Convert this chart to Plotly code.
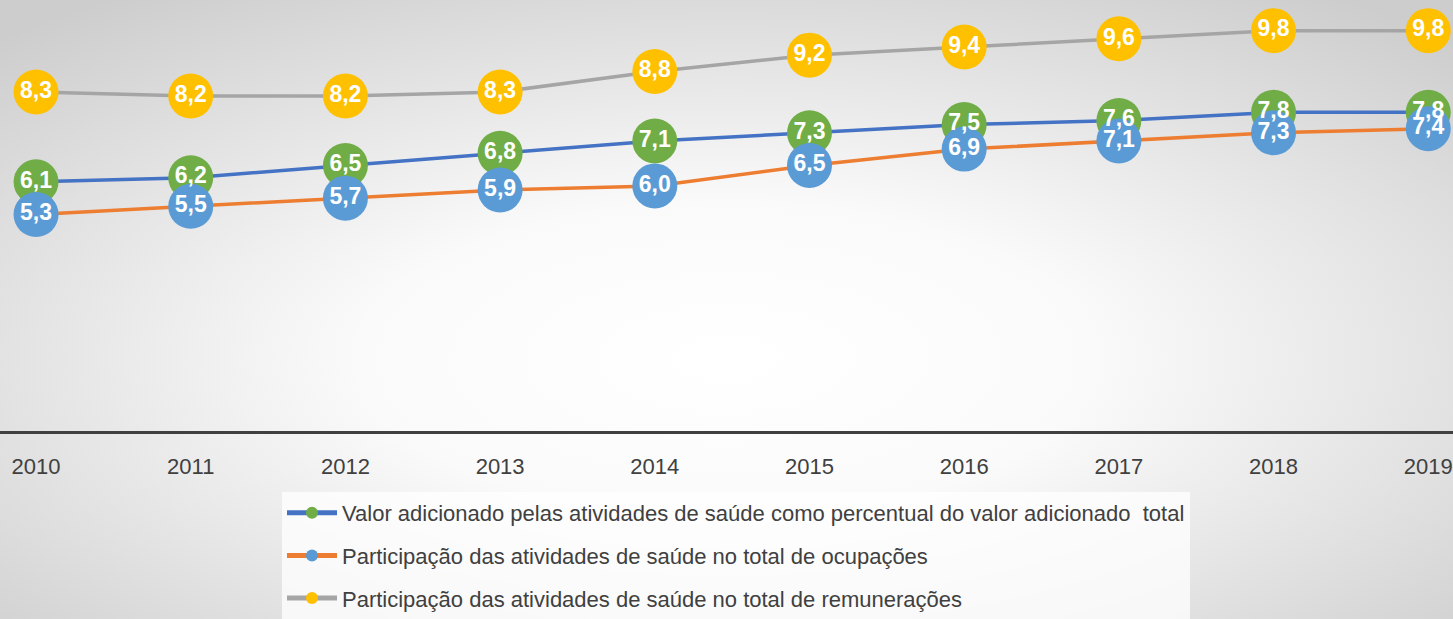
import base64
import plotly.graph_objects as go

anos = [2010, 2011, 2012, 2013, 2014, 2015, 2016, 2017, 2018, 2019]
valor_adicionado = [6.1, 6.2, 6.5, 6.8, 7.1, 7.3, 7.5, 7.6, 7.8, 7.8]
ocupacoes = [5.3, 5.5, 5.7, 5.9, 6.0, 6.5, 6.9, 7.1, 7.3, 7.4]
remuneracoes = [8.3, 8.2, 8.2, 8.3, 8.8, 9.2, 9.4, 9.6, 9.8, 9.8]

nomes = [
    "Valor adicionado pelas atividades de saúde como percentual do valor adicionado  total",
    "Participação das atividades de saúde no total de ocupações",
    "Participação das atividades de saúde no total de remunerações",
]
series = [valor_adicionado, ocupacoes, remuneracoes]
linhas = ["#4472C4", "#ED7D31", "#A5A5A5"]
marcadores = ["#70AD47", "#5B9BD5", "#FFC000"]


def rotulo(v):
    return f"{v:.1f}".replace(".", ",")


fig = go.Figure()
for i, (nome, ys) in enumerate(zip(nomes, series)):
    fig.add_trace(go.Scatter(
        x=anos, y=ys, name=nome, mode="lines+markers", legendgroup=f"g{i}",
        line=dict(color=linhas[i], width=3.5),
        marker=dict(color=marcadores[i], size=45),
    ))
# rotulos por cima de todos os marcadores
for ys in series:
    fig.add_trace(go.Scatter(
        x=anos, y=ys, mode="text", showlegend=False, hoverinfo="skip",
        text=[rotulo(v) for v in ys], textposition="middle center",
        textfont=dict(family="Liberation Sans", size=23, color="white", weight="bold"),
    ))

# fundo com gradiente radial
svg = (
    '<svg xmlns="http://www.w3.org/2000/svg" width="1453" height="619">'
    '<defs><radialGradient id="g" cx="0.5" cy="0.58" r="0.72">'
    '<stop offset="0" stop-color="#ffffff"/><stop offset="0.35" stop-color="#fafafa"/>'
    '<stop offset="1" stop-color="#cdcdcd"/></radialGradient></defs>'
    '<rect width="1453" height="619" fill="url(#g)"/></svg>'
)
fundo = "data:image/svg+xml;base64," + base64.b64encode(svg.encode()).decode()

altura_plot = 431
fig.add_layout_image(
    source=fundo, xref="paper", yref="paper", x=0, y=1,
    sizex=1, sizey=619 / altura_plot, sizing="stretch", layer="below",
    xanchor="left", yanchor="top",
)

fig.update_layout(
    width=1453, height=619,
    margin=dict(l=0, r=0, t=0, b=619 - altura_plot),
    paper_bgcolor="#e0e0e0", plot_bgcolor="rgba(0,0,0,0)",
    font=dict(family="Liberation Sans", color="#404040"),
    showlegend=True,
    legend=dict(
        x=282 / 1453, xanchor="left", yref="container", y=0, yanchor="bottom",
        bgcolor="rgba(255,255,255,0.75)", font=dict(size=22, color="#404040"),
        tracegroupgap=11, itemsizing="constant", itemwidth=50,
    ),
    xaxis=dict(
        range=[2009.767, 2019.16], tickvals=anos, ticktext=[str(a) for a in anos],
        showgrid=False, zeroline=False, showline=True, linecolor="#404040", linewidth=3,
        ticks="", ticklabelstandoff=14, ticklabeloverflow="allow", automargin=False,
        tickfont=dict(size=22, color="#404040"),
    ),
    yaxis=dict(range=[0, 10.55], visible=False, showgrid=False, zeroline=False),
)

fig.write_html("out.html", config={"displayModeBar": False},
               post_script="document.body.style.margin='0';")
